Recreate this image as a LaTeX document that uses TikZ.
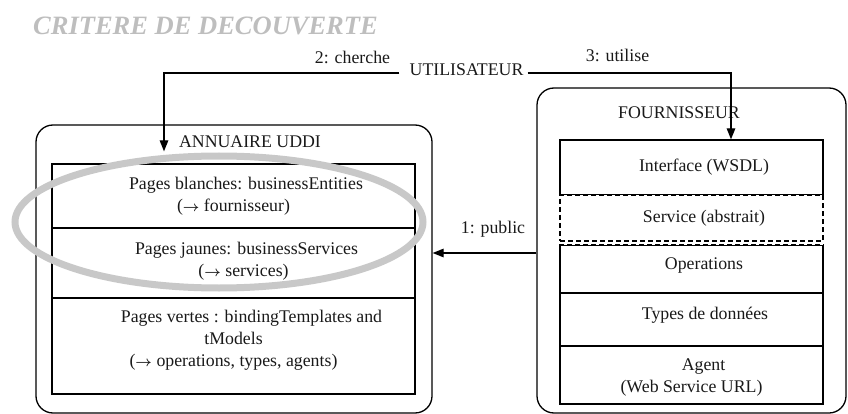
\documentclass[tikz,border=0pt]{standalone}
\usepackage{fontspec}
\setmainfont{Liberation Serif}
\newcommand{\rarr}{{\fontsize{14}{22}\selectfont\boldmath$\rightarrow$}}
\usetikzlibrary{arrows.meta}
\definecolor{titlegray}{RGB}{190,190,190}
\definecolor{ringgray}{RGB}{200,200,200}
\begin{document}
\begin{tikzpicture}[x=1pt,y=-1pt,
  txt/.style={font=\fontsize{17.8}{22}\selectfont, text=black!90, inner sep=0pt, align=center},
  outerbox/.style={draw, rounded corners=17pt, line width=1.3pt, inner sep=0pt},
  rowbox/.style={draw, line width=1.3pt, inner sep=0pt},
  dashline/.style={dash pattern=on 5pt off 3pt},
  conn/.style={draw, line width=1.3pt, -{Triangle[length=11pt,width=8.5pt]}}]
\useasboundingbox (0,0) rectangle (848,414);

% title
\node[anchor=west, font=\fontsize{26.5}{30}\selectfont\bfseries\itshape, text=titlegray, inner sep=0pt] (title) at (33,26) {CRITERE DE DECOUVERTE};

% outer boxes
\node[outerbox, minimum width=396pt, minimum height=288pt] (ann) at (234,269) {};
\node[outerbox, minimum width=309pt, minimum height=325pt] (four) at (691.5,250.5) {};

\node[txt] (annt) at (250,142) {ANNUAIRE UDDI};
\node[txt] (fourt) at (679,113) {FOURNISSEUR};

% annuaire rows
\node[rowbox, minimum width=363pt, minimum height=64pt] (r1) at (233.5,196) {};
\node[rowbox, minimum width=363pt, minimum height=70pt] (r2) at (233.5,263) {};
\node[rowbox, minimum width=363pt, minimum height=96pt] (r3) at (233.5,346) {};
\node[txt] (t1) at (r1.center) {\hspace*{25pt}Pages blanches: businessEntities\\(\rarr\ fournisseur)};
\node[txt, yshift=2pt] (t2) at (r2.center) {\hspace*{26pt}Pages jaunes: businessServices\\\hspace*{20pt}(\rarr\ services)};
\node[txt, yshift=6pt] (t3) at (r3.center) {\hspace*{36pt}Pages vertes : bindingTemplates and\\tModels\\(\rarr\ operations, types, agents)};

% fournisseur rows
\node[rowbox, minimum width=263pt, minimum height=55pt] (iface) at (691.5,167.5) {};
\draw[white, line width=2.2pt] (iface.south west) -- (iface.south east);
\node[rowbox, dashline, minimum width=263pt, minimum height=46pt] (serv) at (691.5,218) {};
\node[rowbox, line width=1.7pt, minimum width=263pt, minimum height=48pt] (ops) at (691.5,269) {};
\draw[white, line width=2.2pt] (ops.north west) -- (ops.north east);
\draw[dashline, line width=1.3pt] (ops.north west) -- (ops.north east);
\node[rowbox, minimum width=263pt, minimum height=53pt] (types) at (691.5,319.5) {};
\node[rowbox, minimum width=263pt, minimum height=58pt] (agent) at (691.5,375) {};

\node[txt, xshift=12.5pt] (ifacet) at (iface.center) {Interface (WSDL)};
\node[txt, xshift=12.5pt] (servt) at (serv.center) {Service (abstrait)};
\node[txt, xshift=12.5pt, yshift=3pt] (opst) at (ops.center) {Operations};
\node[txt, xshift=13.5pt, yshift=4.5pt] (typest) at (types.center) {Types de données};
\node[txt, yshift=-2.5pt] (agentt) at (agent.center) {\hspace*{24pt}Agent\\(Web Service URL)};

% user and labels
\node[txt] (util) at (466.5,70) {UTILISATEUR};
\node[txt] (lab2) at (352.5,57) {2: cherche};
\node[txt] (lab3) at (617.5,55) {3: utilise};
\node[txt] (lab1) at (493,229) {1: public};

% connectors
\coordinate (k2) at (164,73);
\coordinate (k3) at (731,73);
\coordinate (k1) at (538,253);
\draw[conn] ([xshift=-10pt]util.west |- k2) -- (k2) -- ([yshift=12pt]k2 |- r1.north);
\draw[conn] ([xshift=4pt]util.east |- k3) -- (k3) -- (k3 |- iface.north);
\draw[conn] (four.west |- k1) -- (ann.east |- k1);

% highlight ring
\draw[ringgray, line width=7pt] (219,222) ellipse [x radius=204pt, y radius=66pt];
\end{tikzpicture}
\end{document}
